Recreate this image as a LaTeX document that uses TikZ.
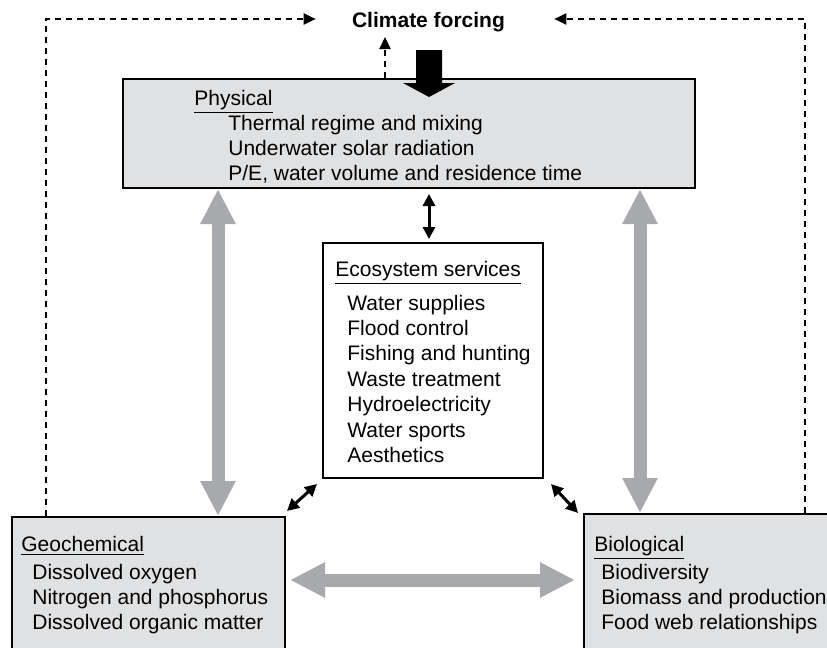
\documentclass[tikz,border=0pt]{standalone}
\usepackage{fontspec}
\setmainfont{Liberation Sans}
\usetikzlibrary{arrows.meta,calc}
\definecolor{boxgrey}{RGB}{224,225,227}
\definecolor{arrowgrey}{RGB}{167,169,172}

\begin{document}
\begin{tikzpicture}[x=0.5pt, y=-0.5pt, font=\fontsize{10.5}{12.7}\selectfont,
    box/.style={draw, line width=1pt, inner sep=0pt},
    txt/.style={anchor=north west, align=left, inner sep=0pt},
    greyarrow/.style={draw=arrowgrey, line width=6.5pt,
      {Triangle[width=16.5pt,length=17.5pt]}-{Triangle[width=16.5pt,length=17.5pt]}},
    blackarrow/.style={line width=1.5pt,
      {Triangle[width=6pt,length=6pt]}-{Triangle[width=6pt,length=6pt]}},
    dashline/.style={line width=1pt, dash pattern=on 3pt off 2.5pt,
      -{Triangle[width=5.5pt,length=6pt]}}]

    \useasboundingbox (0,0) rectangle (827,648);

    % --- Boxes ---
    \node[box, fill=boxgrey, minimum width=286pt, minimum height=54.5pt] (phys) at (409,133.5) {};
    \node[box, fill=white, minimum width=110pt, minimum height=117.5pt] (eco) at (433,360.5) {};
    \node[box, fill=boxgrey, minimum width=136.5pt, minimum height=71.5pt] (geo) at (148.5,588.5) {};
    \node[box, fill=boxgrey, minimum width=128pt, minimum height=73pt] (bio) at (712,587) {};

    % Physical
    \node[txt] (physhead) at (194,89.5) {\underline{Physical}};
    \node[txt] (physitems) at (228,114.5) {Thermal regime and mixing\\
      Underwater solar radiation\\P/E, water volume and residence time};

    % Ecosystem services
    \node[txt] (ecohead) at (335,260.5) {\underline{Ecosystem services}};
    \node[txt] (ecoitems) at (347,294.5) {Water supplies\\Flood control\\
      Fishing and hunting\\Waste treatment\\Hydroelectricity\\Water sports\\Aesthetics};

    % Geochemical
    \node[txt] (geohead) at (21,535.5) {\underline{Geochemical}};
    \node[txt] (geoitems) at (32,563.5) {Dissolved oxygen\\
      Nitrogen and phosphorus\\Dissolved organic matter};

    % Biological
    \node[txt] (biohead) at (594,535.5) {\underline{Biological}};
    \node[txt] (bioitems) at (601,563.5) {Biodiversity\\
      Biomass and production\\Food web relationships};

    % --- Climate forcing ---
    \node[inner sep=0pt, font=\fontsize{10.5}{12.7}\selectfont\bfseries] (forcing) at (428.5,22) {Climate forcing};

    % feedback loops (dashed)
    \draw[dashline] (46,0 |- geo.north) |- ($(forcing.west)+(-36,-3)$);
    \draw[dashline] (805,0 |- bio.north) |- ($(forcing.east)+(49,-3)$);
    \coordinate (up) at (385,37);
    \draw[dashline] (385,0 |- phys.north) -- (up);

    % forcing onto the physical box
    \fill (416,50) -- (442,50) -- (442,83) -- (455,83) -- (429,97)
      -- (403,83) -- (416,83) -- cycle;

    % --- Grey exchanges ---
    \draw[greyarrow] (218,0 |- phys.south) -- (218,0 |- geo.north);
    \draw[greyarrow] (640,0 |- phys.south) -- (640,0 |- bio.north);
    \draw[greyarrow] ([shift={(4,-8.5)}]geo.east) -- ([shift={(-8,-7)}]bio.west);

    % --- Links to services ---
    \draw[blackarrow] ($(429,0 |- phys.south)+(0,5)$) -- ($(429,0 |- eco.north)+(0,-3)$);
    \draw[blackarrow] ([shift={(-5,5)}]eco.south west) -- ([shift={(1,-5)}]geo.north east);
    \draw[blackarrow] ([shift={(7,5)}]eco.south east) -- ([shift={(-5,0)}]bio.north west);

  \end{tikzpicture}
\end{document}
